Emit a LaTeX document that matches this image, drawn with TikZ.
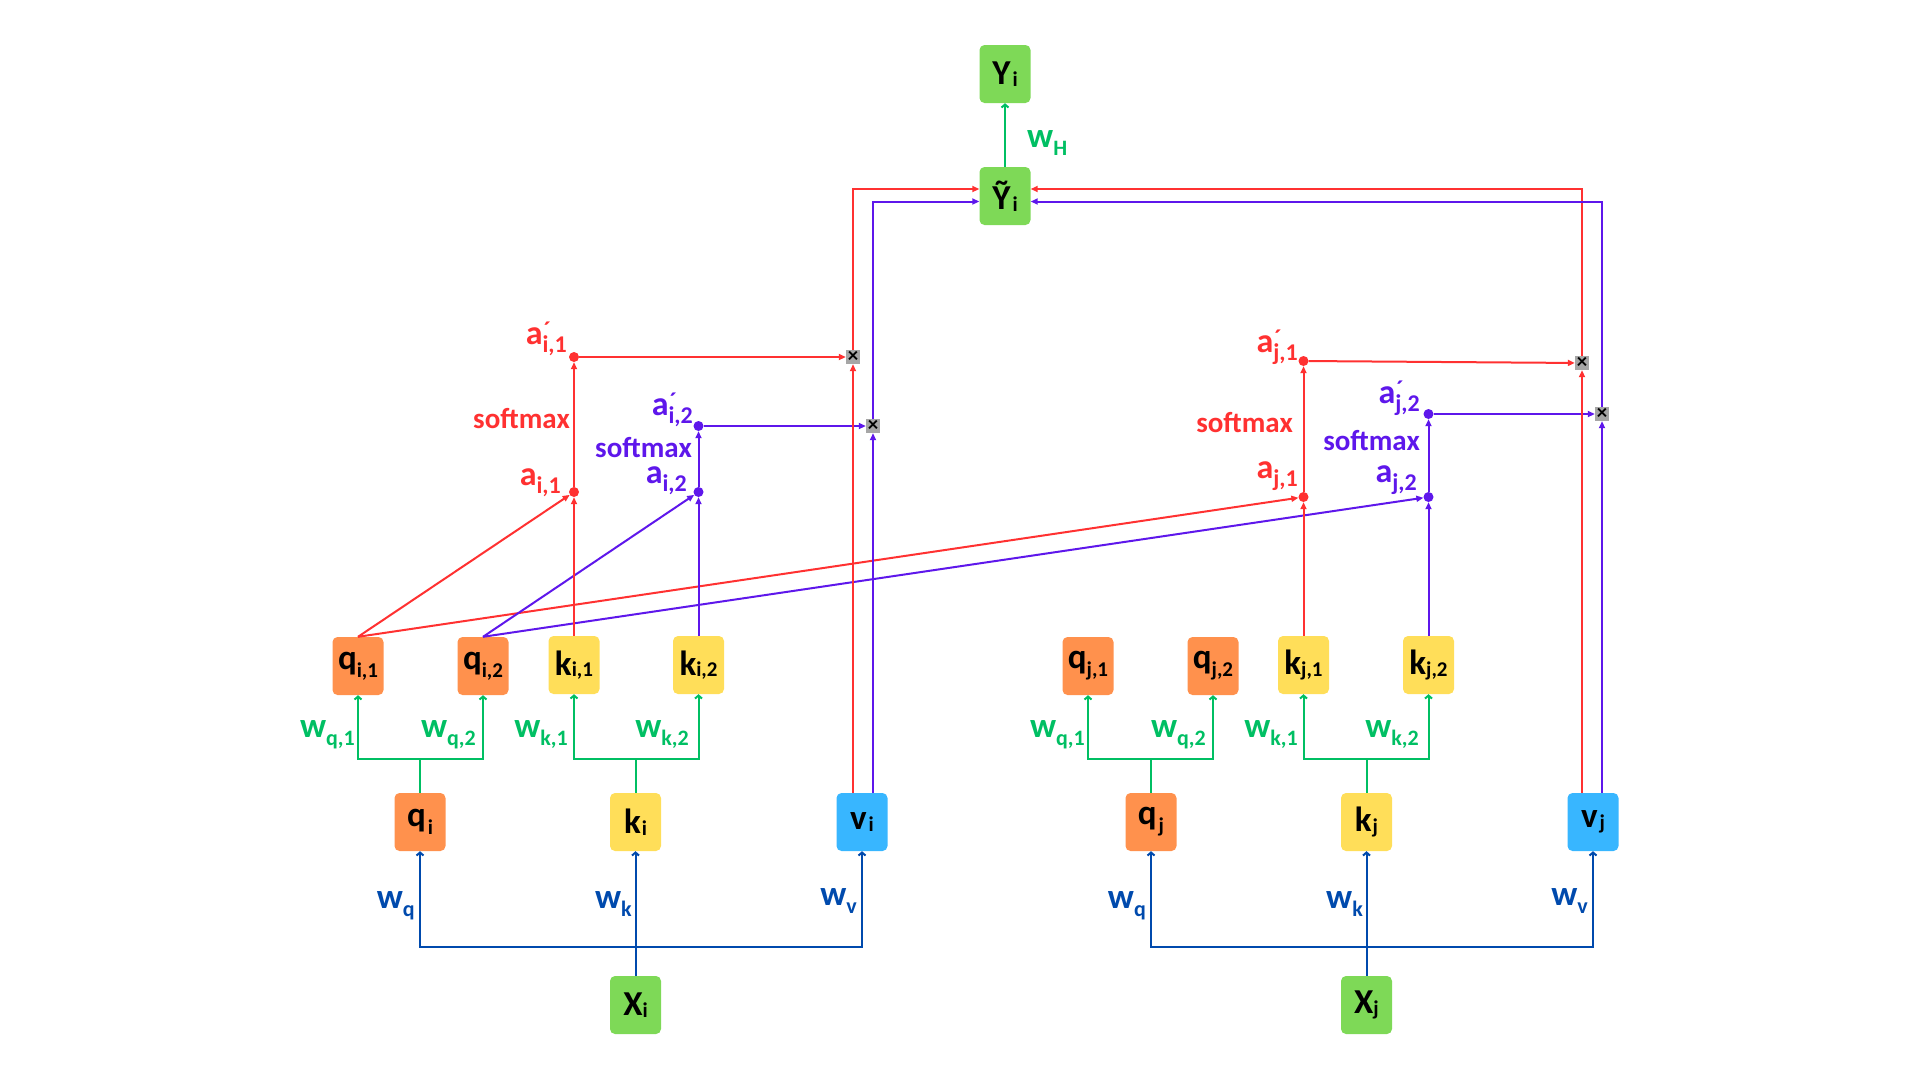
\documentclass[tikz,border=0pt]{standalone}
\usepackage{fontspec}
\setmainfont{Carlito}
\usetikzlibrary{arrows.meta}
\definecolor{cred}{HTML}{FF3131}
\definecolor{cpur}{HTML}{5E17EB}
\definecolor{cgrn}{HTML}{00BF63}
\definecolor{cblu}{HTML}{004AAD}
\definecolor{fgrn}{HTML}{7ED957}
\definecolor{forg}{HTML}{FF914D}
\definecolor{fyel}{HTML}{FFDE59}
\definecolor{fcya}{HTML}{38B6FF}
\definecolor{fgry}{HTML}{A6A6A6}
\newcommand{\lsub}[1]{\raisebox{-8pt}{\fontsize{21}{21}\selectfont #1}}
\newcommand{\fsub}[1]{\raisebox{-1.5pt}{\fontsize{21}{21}\selectfont #1}}
\newcommand{\wlab}[1]{w\raisebox{-8pt}{\fontsize{22}{22}\selectfont #1}}
\newcommand{\alab}[1]{a\raisebox{-8pt}{\fontsize{24}{24}\selectfont #1}}
\newcommand{\aplab}[1]{a\makebox[0pt][l]{\raisebox{6pt}{\fontsize{24}{24}\selectfont\kern1pt ´}}\raisebox{-8pt}{\fontsize{24}{24}\selectfont #1}}
\begin{document}
\begin{tikzpicture}[x=1pt,y=-1pt,
  nbox/.style={rounded corners=5pt, minimum width=51pt, minimum height=58pt, inner sep=0pt,
    font=\bfseries\fontsize{35}{38}\selectfont, text=black},
  gbox/.style={nbox, fill=fgrn},
  obox/.style={nbox, fill=forg},
  ybox/.style={nbox, fill=fyel},
  cbox/.style={nbox, fill=fcya},
  adot/.style={circle, fill=#1, minimum size=10pt, inner sep=0pt},
  mult/.style={fill=fgry, minimum size=14pt, inner sep=0pt, font=\bfseries\fontsize{21}{21}\selectfont},
  rarr/.style={draw=cred, line width=2pt, -{Triangle[length=7pt,width=6pt]}},
  parr/.style={draw=cpur, line width=2pt, -{Triangle[length=7pt,width=6pt]}},
  gln/.style={draw=cgrn, line width=2pt},
  garr/.style={gln, -{Straight Barb[length=3pt,width=7pt]}},
  bln/.style={draw=cblu, line width=2pt},
  barr/.style={bln, -{Straight Barb[length=3pt,width=7pt]}},
  lab/.style={inner sep=0pt, font=\bfseries\fontsize{34}{36}\selectfont},
  smx/.style={inner sep=0pt, font=\bfseries\fontsize{29}{32}\selectfont},
  wl/.style={inner sep=0pt, font=\bfseries\fontsize{35}{38}\selectfont},
]
\useasboundingbox (0,0) rectangle (1920,1080);

% ---- output ----
\node[gbox] (Y) at (1005,74) {Y\hspace{2pt}\fsub{i}};
\node[gbox] (Yt) at (1005,196) {Ỹ\hspace{2pt}\fsub{i}};

% ---- side i ----
\node[gbox] (Xi) at (635.5,1005) {X\fsub{i}};
\node[obox] (qi) at (420,822) {q\hspace{2pt}\lsub{i}};
\node[ybox] (ki) at (635.5,822) {k\hspace{1pt}\fsub{i}};
\node[cbox] (vi) at (862,822) {v\hspace{2pt}\fsub{i}};
\node[obox] (qi1) at (358,666) {q\lsub{i,1}};
\node[obox] (qi2) at (483,666) {q\lsub{i,2}};
\node[ybox] (ki1) at (574,665) {k\fsub{i,1}};
\node[ybox] (ki2) at (698.5,665) {k\fsub{i,2}};

% ---- side j ----
\node[gbox] (Xj) at (1366.5,1005) {X\fsub{j}};
\node[obox] (qj) at (1151,822) {q\hspace{2pt}\lsub{j}};
\node[ybox] (kj) at (1366.5,822) {k\hspace{1pt}\fsub{j}};
\node[cbox] (vj) at (1593,822) {v\hspace{2pt}\fsub{j}};
\node[obox] (qj1) at (1088,666) {q\lsub{j,1}};
\node[obox] (qj2) at (1213,666) {q\lsub{j,2}};
\node[ybox] (kj1) at (1303.5,665) {k\fsub{j,1}};
\node[ybox] (kj2) at (1428.5,665) {k\fsub{j,2}};

% ---- attention dots ----
\node[adot=cred] (ai1) at (574,492) {};
\node[adot=cred] (api1) at (574,357) {};
\node[adot=cpur] (ai2) at (698.5,492) {};
\node[adot=cpur] (api2) at (698.5,426) {};
\node[adot=cred] (aj1) at (1303.5,497) {};
\node[adot=cred] (apj1) at (1303.5,361) {};
\node[adot=cpur] (aj2) at (1428.5,497) {};
\node[adot=cpur] (apj2) at (1428.5,414) {};

% ---- multipliers ----
\node[mult] (mi1) at (853,357) {×};
\node[mult] (mi2) at (873,426) {×};
\node[mult] (mj1) at (1582,363) {×};
\node[mult] (mj2) at (1602,414) {×};

% ---- blue projections ----
\coordinate (bji) at (635.5,947);
\coordinate (bjj) at (1366.5,947);
\draw[barr] (Xi) -- (ki);
\draw[barr] (bji) -| (qi.south);
\draw[barr] (bji) -| (vi.south);
\draw[barr] (Xj) -- (kj);
\draw[barr] (bjj) -| (qj.south);
\draw[barr] (bjj) -| (vj.south);

% ---- green heads ----
\coordinate (gqi) at (420,759);
\coordinate (gki) at (635.5,759);
\coordinate (gqj) at (1151,759);
\coordinate (gkj) at (1366.5,759);
\draw[gln] (qi) -- (gqi);
\draw[garr] (gqi) -| (qi1.south);
\draw[garr] (gqi) -| (qi2.south);
\draw[gln] (ki) -- (gki);
\draw[garr] (gki) -| (ki1.south);
\draw[garr] (gki) -| (ki2.south);
\draw[gln] (qj) -- (gqj);
\draw[garr] (gqj) -| (qj1.south);
\draw[garr] (gqj) -| (qj2.south);
\draw[gln] (kj) -- (gkj);
\draw[garr] (gkj) -| (kj1.south);
\draw[garr] (gkj) -| (kj2.south);

% ---- scores ----
\draw[rarr] (qi1.north) -- (ai1);
\draw[rarr] (qi1.north) -- (aj1);
\draw[parr] (qi2.north) -- (ai2);
\draw[parr] (qi2.north) -- (aj2);
\draw[rarr] (ki1) -- (ai1);
\draw[parr] (ki2) -- (ai2);
\draw[rarr] (kj1) -- (aj1);
\draw[parr] (kj2) -- (aj2);

% ---- softmax ----
\draw[rarr] (ai1) -- (api1);
\draw[parr] (ai2) -- (api2);
\draw[rarr] (aj1) -- (apj1);
\draw[parr] (aj2) -- (apj2);

% ---- weighting ----
\draw[rarr] (api1) -- (mi1);
\draw[parr] (api2) -- (mi2);
\draw[rarr] (apj1) -- (mj1);
\draw[parr] (apj2) -- (mj2);
\draw[rarr] (vi.north -| mi1) -- (mi1);
\draw[parr] (vi.north -| mi2) -- (mi2);
\draw[rarr] (vj.north -| mj1) -- (mj1);
\draw[parr] (vj.north -| mj2) -- (mj2);
\draw[rarr] (mi1) |- ([yshift=7pt]Yt.west);
\draw[parr] (mi2) |- ([yshift=-5.5pt]Yt.west);
\draw[rarr] (mj1) |- ([yshift=7pt]Yt.east);
\draw[parr] (mj2) |- ([yshift=-5.5pt]Yt.east);
\draw[garr] (Yt) -- (Y);

% ---- labels ----
\node[wl, text=cgrn, anchor=base west] (lwh) at (1027,147) {\wlab{H}};

\node[lab, text=cred, anchor=base east] (lapi1) at (567,344) {\aplab{i,1}};
\node[smx, text=cred, anchor=base east] (lsi1) at (570,428) {softmax};
\node[lab, text=cpur, anchor=base east] (lapi2) at (693,415) {\aplab{i,2}};
\node[smx, text=cpur, anchor=base east] (lsi2) at (692,457) {softmax};
\node[lab, text=cred, anchor=base east] (lai1) at (561,485) {\alab{i,1}};
\node[lab, text=cpur, anchor=base east] (lai2) at (687,483) {\alab{i,2}};

\node[lab, text=cred, anchor=base east] (lapj1) at (1298,352) {\aplab{j,1}};
\node[smx, text=cred, anchor=base east] (lsj1) at (1293,432) {softmax};
\node[lab, text=cpur, anchor=base east] (lapj2) at (1420,403) {\aplab{j,2}};
\node[smx, text=cpur, anchor=base east] (lsj2) at (1420,450) {softmax};
\node[lab, text=cred, anchor=base east] (laj1) at (1298,478) {\alab{j,1}};
\node[lab, text=cpur, anchor=base east] (laj2) at (1417,482) {\alab{j,2}};

\node[wl, text=cblu, anchor=base east] (lwqi) at (415,908) {\wlab{q}};
\node[wl, text=cblu, anchor=base east] (lwki) at (632,908) {\wlab{k}};
\node[wl, text=cblu, anchor=base east] (lwvi) at (857,905) {\wlab{v}};
\node[wl, text=cblu, anchor=base east] (lwqj) at (1146,908) {\wlab{q}};
\node[wl, text=cblu, anchor=base east] (lwkj) at (1363,908) {\wlab{k}};
\node[wl, text=cblu, anchor=base east] (lwvj) at (1588,905) {\wlab{v}};

\node[wl, text=cgrn, anchor=base east] (lwq1i) at (355,737) {\wlab{q,1}};
\node[wl, text=cgrn, anchor=base east] (lwq2i) at (476,737) {\wlab{q,2}};
\node[wl, text=cgrn, anchor=base east] (lwk1i) at (568,737) {\wlab{k,1}};
\node[wl, text=cgrn, anchor=base east] (lwk2i) at (689,737) {\wlab{k,2}};
\node[wl, text=cgrn, anchor=base east] (lwq1j) at (1085,737) {\wlab{q,1}};
\node[wl, text=cgrn, anchor=base east] (lwq2j) at (1206,737) {\wlab{q,2}};
\node[wl, text=cgrn, anchor=base east] (lwk1j) at (1298,737) {\wlab{k,1}};
\node[wl, text=cgrn, anchor=base east] (lwk2j) at (1419,737) {\wlab{k,2}};
\end{tikzpicture}
\end{document}
